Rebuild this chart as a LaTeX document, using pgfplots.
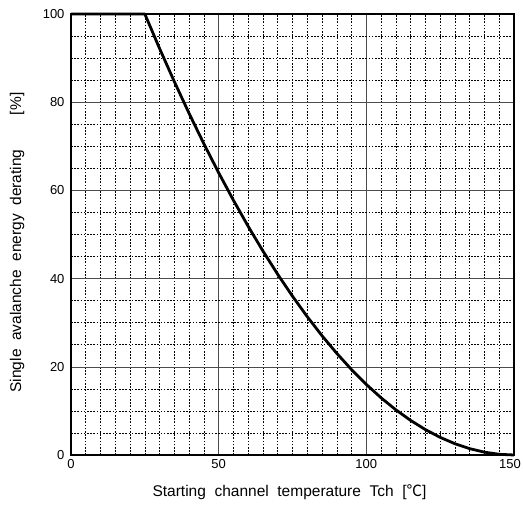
\documentclass[border=0pt]{standalone}
\usepackage{pgfplots}
\pgfplotsset{compat=1.18}
\usepackage{fontspec}
\setmainfont{Liberation Sans}
\newfontfamily\cjk{Noto Sans CJK JP}
\begin{document}
\begin{tikzpicture}
\begin{axis}[
  name=ax,
  width=443pt, height=441pt, scale only axis,
  xmin=0, xmax=150, ymin=0, ymax=100,
  xtick={0,50,100,150}, ytick={0,20,40,60,80,100},
  xticklabels={0,50,100,{\hspace*{-8pt}150}},
  minor xtick={5,10,...,145}, minor ytick={5,10,...,95},
  grid=both,
  major grid style={black!70, line width=0.6pt},
  minor grid style={black, dash pattern=on 1.6pt off 1.6pt, line width=0.6pt},
  axis line style={line width=1.3pt},
  major tick length=0pt, minor tick length=0pt,
  tick style={draw=none},
  ticklabel style={font=\fontsize{13}{15}\selectfont},
  /pgf/number format/assume math mode=true,
  xticklabel style={yshift=-1pt},
  yticklabel style={xshift=-3pt},
  clip=false,
]
\addplot[black, line width=2.8pt, line join=round] coordinates {
(0,100) (25,100) (30,92.16) (35,84.64) (40,77.44) (45,70.56) (50,64)
(55,57.76) (60,51.84) (65,46.24) (70,40.96) (75,36) (80,31.36) (85,27.04)
(90,23.04) (95,19.36) (100,16) (105,12.96) (110,10.24) (115,7.84) (120,5.76)
(125,4) (130,2.56) (135,1.44) (140,0.64) (145,0.16) (150,0)
};
\coordinate (SW) at (rel axis cs:0,0);
\coordinate (NE) at (rel axis cs:1,1);
\coordinate (XL) at (rel axis cs:0.5,0);
\coordinate (YL) at (rel axis cs:0,0.5);
\end{axis}
\node[font=\fontsize{15.5}{17}\selectfont, anchor=center] at ([xshift=-3pt,yshift=-37pt]XL) {Starting~ channel~ temperature~ Tch~ [{\cjk ℃}]};
\node[font=\fontsize{15.5}{17}\selectfont, anchor=center, rotate=90] at ([xshift=-54pt,yshift=-8pt]YL) {Single~ avalanche~ energy~ derating~ ~ ~ ~ [\%]};
\pgfresetboundingbox
\path ([xshift=-71pt,yshift=-50pt]SW) rectangle ([xshift=9pt,yshift=14pt]NE);
\end{tikzpicture}
\end{document}
